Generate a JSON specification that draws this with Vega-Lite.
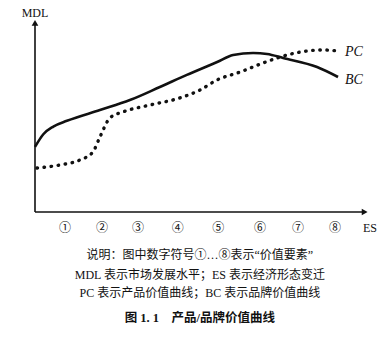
{
  "$schema": "https://vega.github.io/schema/vega-lite/v6.json",
  "width": 333,
  "height": 192,
  "autosize": {"type": "none"},
  "padding": {"left": 35, "top": 20, "right": 21, "bottom": 128},
  "background": "white",
  "config": {"view": {"stroke": null}},
  "encoding": {
    "x": {"field": "x", "type": "quantitative", "scale": {"domain": [0, 10]}, "axis": null},
    "y": {"field": "y", "type": "quantitative", "scale": {"domain": [0, 10]}, "axis": null}
  },
  "layer": [
    {
      "data": {"values": [
        {"x": 0, "y": 0, "x2": 9.85, "y2": 0},
        {"x": 0, "y": 0, "x2": 0, "y2": 9.8}
      ]},
      "mark": {"type": "rule", "color": "#111", "strokeWidth": 1.6},
      "encoding": {"x2": {"field": "x2"}, "y2": {"field": "y2"}}
    },
    {
      "data": {"values": [
        {"x": 9.9, "y": 0, "s": "triangle-right"},
        {"x": 0, "y": 9.85, "s": "triangle-up"}
      ]},
      "mark": {"type": "point", "filled": true, "color": "#111", "size": 45, "opacity": 1},
      "encoding": {"shape": {"field": "s", "type": "nominal", "scale": null, "legend": null}}
    },
    {
      "data": {"values": [
        {"x": 0, "y": 3.39}, {"x": 0.25, "y": 4.05}, {"x": 0.55, "y": 4.45}, {"x": 0.96, "y": 4.75},
        {"x": 1.95, "y": 5.31}, {"x": 2.85, "y": 5.83}, {"x": 3.75, "y": 6.51},
        {"x": 4.56, "y": 7.14}, {"x": 5.47, "y": 7.81}, {"x": 5.95, "y": 8.18},
        {"x": 6.55, "y": 8.28}, {"x": 6.97, "y": 8.23}, {"x": 7.45, "y": 8.02},
        {"x": 8.47, "y": 7.55}, {"x": 9.1, "y": 7.03}
      ]},
      "mark": {"type": "line", "color": "#111", "strokeWidth": 2.6, "interpolate": "monotone"}
    },
    {
      "data": {"values": [
        {"x": 0.06, "y": 2.29}, {"x": 0.75, "y": 2.45}, {"x": 1.35, "y": 2.71},
        {"x": 1.74, "y": 3.13}, {"x": 1.95, "y": 3.91}, {"x": 2.25, "y": 4.9},
        {"x": 2.64, "y": 5.21}, {"x": 3.45, "y": 5.57}, {"x": 4.35, "y": 5.94},
        {"x": 4.95, "y": 6.35}, {"x": 5.47, "y": 6.88}, {"x": 6.16, "y": 7.29},
        {"x": 6.85, "y": 7.76}, {"x": 7.36, "y": 8.07}, {"x": 7.96, "y": 8.33},
        {"x": 8.65, "y": 8.44}, {"x": 9.07, "y": 8.39}
      ]},
      "mark": {"type": "line", "color": "#111", "strokeWidth": 3.4, "strokeCap": "round", "strokeDash": [0.5, 6.6], "interpolate": "monotone"}
    },
    {
      "data": {"values": [
        {"x": 9.31, "y": 8.33, "t": "PC"},
        {"x": 9.31, "y": 6.87, "t": "BC"}
      ]},
      "mark": {"type": "text", "align": "left", "baseline": "middle", "font": "Liberation Serif", "fontStyle": "italic", "fontSize": 14, "color": "#111"},
      "encoding": {"text": {"field": "t"}}
    },
    {
      "data": {"values": [
        {"x": 0, "y": 10.36, "t": "MDL"},
        {"x": 10.06, "y": -0.83, "t": "ES"}
      ]},
      "mark": {"type": "text", "align": "center", "baseline": "middle", "font": "Liberation Serif", "fontSize": 12, "color": "#111"},
      "encoding": {"text": {"field": "t"}}
    },
    {
      "data": {"values": [
        {"x": 0.9, "y": -0.83, "t": "①"}, {"x": 2.01, "y": -0.83, "t": "②"},
        {"x": 3.09, "y": -0.83, "t": "③"}, {"x": 4.29, "y": -0.83, "t": "④"},
        {"x": 5.5, "y": -0.83, "t": "⑤"}, {"x": 6.76, "y": -0.83, "t": "⑥"},
        {"x": 7.9, "y": -0.83, "t": "⑦"}, {"x": 9.01, "y": -0.83, "t": "⑧"}
      ]},
      "mark": {"type": "text", "align": "center", "baseline": "middle", "font": "DejaVu Serif, Noto Sans CJK SC", "fontSize": 12, "color": "#111"},
      "encoding": {"text": {"field": "t"}}
    },
    {
      "data": {"values": [
        {"x": 4.95, "y": -2.24, "t": "说明：图中数字符号①…⑧表示“价值要素”"},
        {"x": 4.95, "y": -3.28, "t": "MDL 表示市场发展水平；ES 表示经济形态变迁"},
        {"x": 4.95, "y": -4.22, "t": "PC 表示产品价值曲线；BC 表示品牌价值曲线"}
      ]},
      "mark": {"type": "text", "align": "center", "baseline": "middle", "font": "Liberation Serif, Noto Sans CJK SC", "fontSize": 12, "color": "#111"},
      "encoding": {"text": {"field": "t"}}
    },
    {
      "data": {"values": [
        {"x": 4.95, "y": -5.52, "t": "图 1. 1\u00a0\u00a0\u00a0\u00a0产品/品牌价值曲线"}
      ]},
      "mark": {"type": "text", "align": "center", "baseline": "middle", "font": "Liberation Serif, Noto Sans CJK SC", "fontSize": 12.5, "fontWeight": "bold", "color": "#111"},
      "encoding": {"text": {"field": "t"}}
    }
  ]
}
